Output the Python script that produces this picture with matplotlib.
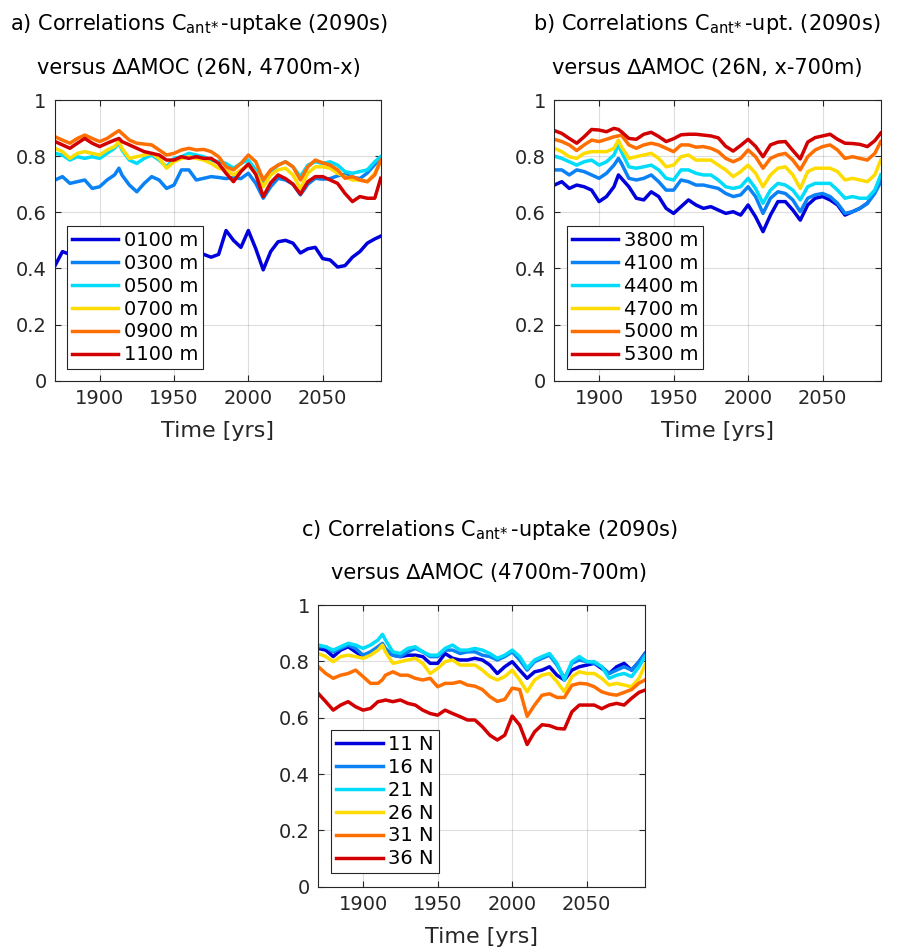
import numpy as np
import matplotlib
matplotlib.use("Agg")
import matplotlib.pyplot as plt

# ---- data ----
years = [1870, 1875, 1880, 1885, 1890, 1895, 1900, 1905, 1910, 1913, 1915,
         1920, 1925, 1930, 1935, 1940, 1945, 1950, 1955, 1960, 1965, 1970,
         1975, 1980, 1985, 1990, 1995, 2000, 2005, 2010, 2015, 2020, 2025,
         2030, 2035, 2040, 2045, 2050, 2055, 2060, 2065, 2070, 2075, 2080,
         2085, 2089]

# a) 26N, 4700m-x
labels_a = ["0100 m", "0300 m", "0500 m", "0700 m", "0900 m", "1100 m"]
a_0100 = [.41, .46, .45, .47, .46, .48, .47, .46, .49, .50, .49,
          .46, .45, .47, .48, .46, .44, .45, .47, .46, .45, .45,
          .44, .45, .535, .50, .475, .535, .47, .395, .46, .495, .50,
          .49, .455, .47, .475, .435, .43, .405, .41, .44, .46, .49,
          .505, .515]
a_0300 = [.715, .727, .703, .709, .715, .685, .691, .715, .733, .757, .733,
          .697, .673, .703, .727, .715, .685, .697, .751, .751, .715, .721,
          .727, .724, .72, .724, .72, .739, .703, .65, .691, .721, .715,
          .70, .662, .70, .721, .718, .72, .73, .735, .725, .72, .74,
          .77, .795]
a_0500 = [.81, .804, .786, .798, .792, .798, .792, .81, .828, .846, .822,
          .786, .774, .792, .804, .786, .762, .792, .798, .81, .804, .798,
          .786, .78, .774, .757, .774, .786, .751, .709, .745, .768, .78,
          .762, .727, .768, .78, .774, .78, .768, .745, .739, .745, .751,
          .78, .798]
a_0700 = [.828, .816, .792, .81, .816, .81, .804, .822, .834, .852, .828,
          .792, .798, .804, .81, .792, .757, .78, .792, .798, .792, .786,
          .774, .757, .751, .733, .751, .768, .739, .691, .733, .751, .757,
          .733, .685, .739, .762, .762, .757, .739, .727, .715, .715, .709,
          .739, .78]
a_0900 = [.869, .857, .846, .863, .875, .863, .852, .863, .881, .891, .881,
          .857, .846, .843, .840, .822, .804, .81, .822, .828, .822, .824,
          .816, .798, .762, .751, .774, .804, .78, .715, .751, .768, .78,
          .762, .715, .762, .786, .776, .768, .751, .721, .727, .715, .709,
          .733, .786]
a_1100 = [.852, .84, .828, .846, .863, .846, .834, .846, .857, .863, .852,
          .84, .828, .816, .81, .804, .786, .786, .798, .792, .798, .792,
          .792, .774, .739, .709, .745, .772, .735, .656, .705, .733, .72,
          .70, .665, .709, .727, .727, .715, .703, .667, .638, .656, .65,
          .65, .721]

# b) 26N, x-700m
labels_b = ["3800 m", "4100 m", "4400 m", "4700 m", "5000 m", "5300 m"]
b_3800 = [.697, .709, .685, .697, .691, .679, .638, .656, .691, .733, .721,
          .691, .65, .644, .673, .656, .614, .596, .62, .644, .626, .614,
          .62, .608, .596, .602, .59, .626, .584, .531, .59, .638, .638,
          .608, .572, .626, .65, .656, .644, .626, .59, .602, .614, .632,
          .673, .715]
b_4100 = [.751, .751, .733, .751, .745, .733, .721, .739, .768, .792, .774,
          .721, .715, .721, .733, .709, .679, .679, .715, .709, .697, .697,
          .691, .685, .667, .656, .662, .691, .656, .596, .65, .673, .667,
          .644, .602, .65, .662, .667, .656, .632, .596, .602, .614, .632,
          .667, .709]
b_4400 = [.80, .792, .78, .768, .78, .786, .768, .78, .804, .84, .816,
          .762, .757, .762, .768, .751, .721, .715, .751, .751, .739, .733,
          .733, .715, .691, .685, .691, .721, .685, .632, .679, .703, .697,
          .679, .644, .691, .703, .703, .703, .679, .65, .656, .65, .65,
          .679, .733]
b_4700 = [.828, .816, .798, .792, .81, .816, .816, .816, .828, .857, .834,
          .792, .798, .804, .81, .792, .762, .768, .798, .804, .786, .786,
          .786, .768, .751, .727, .745, .768, .739, .691, .733, .757, .762,
          .733, .685, .745, .757, .757, .757, .745, .715, .721, .715, .709,
          .733, .786]
b_5000 = [.86, .852, .84, .82, .84, .857, .852, .86, .869, .872, .875,
          .84, .828, .84, .846, .84, .828, .816, .84, .84, .832, .834,
          .828, .816, .792, .78, .792, .822, .798, .757, .792, .804, .81,
          .786, .751, .798, .822, .834, .84, .822, .792, .798, .792, .786,
          .81, .852]
b_5300 = [.891, .881, .863, .846, .869, .895, .893, .887, .899, .895, .887,
          .863, .86, .878, .885, .87, .852, .862, .876, .878, .878, .875,
          .872, .865, .835, .818, .838, .86, .835, .798, .84, .85, .852,
          .82, .79, .85, .866, .872, .878, .86, .846, .845, .842, .834,
          .855, .882]

# c) 4700m-700m, by latitude
labels_c = ["11 N", "16 N", "21 N", "26 N", "31 N", "36 N"]
c_11 = [.846, .84, .817, .84, .852, .834, .817, .828, .846, .858, .84,
        .822, .817, .822, .822, .817, .793, .793, .828, .811, .805, .805,
        .811, .805, .787, .757, .781, .799, .769, .74, .763, .769, .781,
        .751, .734, .769, .781, .787, .793, .775, .757, .781, .793, .769,
        .799, .828]
c_16 = [.852, .852, .834, .846, .858, .846, .822, .834, .852, .864, .846,
        .822, .817, .834, .846, .834, .817, .817, .84, .84, .828, .834,
        .834, .822, .817, .805, .817, .834, .805, .769, .799, .811, .822,
        .787, .74, .793, .805, .799, .793, .781, .757, .769, .781, .769,
        .799, .825]
c_21 = [.858, .852, .84, .852, .864, .858, .846, .858, .876, .896, .876,
        .834, .828, .846, .852, .834, .822, .822, .846, .858, .84, .84,
        .846, .84, .828, .811, .822, .84, .817, .775, .805, .817, .828,
        .793, .734, .799, .817, .799, .799, .781, .74, .751, .757, .746,
        .781, .817]
c_26 = [.828, .817, .799, .817, .822, .817, .811, .822, .84, .858, .834,
        .793, .799, .805, .811, .793, .757, .775, .799, .805, .787, .787,
        .787, .769, .746, .734, .746, .769, .734, .692, .734, .751, .757,
        .728, .692, .746, .763, .757, .757, .74, .716, .722, .716, .71,
        .74, .787]
c_31 = [.781, .757, .74, .751, .757, .769, .746, .722, .722, .735, .751,
        .763, .751, .751, .74, .734, .74, .71, .722, .722, .728, .716,
        .712, .70, .675, .658, .665, .705, .70, .605, .645, .68, .685,
        .672, .672, .715, .722, .72, .71, .692, .684, .68, .69, .70,
        .723, .734]
c_36 = [.686, .657, .627, .645, .657, .639, .627, .633, .657, .66, .663,
        .657, .663, .651, .645, .627, .615, .609, .627, .615, .604, .592,
        .592, .568, .538, .521, .538, .606, .574, .505, .55, .575, .572,
        .562, .56, .621, .645, .645, .645, .632, .645, .651, .645, .669,
        .69, .698]

colors = ["#0000dc", "#0a82f5", "#00dcfa", "#ffdc00", "#ff6e00", "#d20000"]

# ---- figure ----
fig = plt.figure(figsize=(9.11, 9.47), dpi=100)
dark = "#262626"

panels = [
    ([0.0604, 0.598, 0.3575, 0.2964], [a_0100, a_0300, a_0500, a_0700, a_0900, a_1100],
     labels_a, (0.036, 0.041)),
    ([0.6085, 0.598, 0.3583, 0.2964], [b_3800, b_4100, b_4400, b_4700, b_5000, b_5300],
     labels_b, (0.038, 0.041)),
    ([0.3494, 0.0636, 0.3586, 0.2975], [c_11, c_16, c_21, c_26, c_31, c_36],
     labels_c, (0.039, 0.048)),
]

for rect, series, labels, lpos in panels:
    ax = fig.add_axes(rect)
    for vals, col, lab in zip(series, colors, labels):
        ax.plot(years, vals, color=col, lw=2.5, label=lab)
    ax.set_xlim(1870, 2089)
    ax.set_ylim(0, 1)
    ax.set_xticks([1900, 1950, 2000, 2050])
    ax.set_yticks([0, 0.2, 0.4, 0.6, 0.8, 1])
    ax.set_yticklabels(["0", "0.2", "0.4", "0.6", "0.8", "1"])
    ax.grid(True, color=dark, alpha=0.15, lw=0.8)
    ax.tick_params(direction="in", length=4, width=0.8, top=True, right=True,
                   labelsize=14, colors=dark, pad=6)
    for sp in ax.spines.values():
        sp.set_color(dark)
        sp.set_linewidth(0.8)
    ax.set_xlabel("Time [yrs]", fontsize=16, color=dark, labelpad=9)
    leg = ax.legend(loc="lower left", bbox_to_anchor=lpos, borderaxespad=0,
                    fontsize=14, fancybox=False, framealpha=1, edgecolor=dark,
                    handlelength=2.4, handletextpad=0.3, labelspacing=0.2,
                    borderpad=0.25)
    leg.get_frame().set_linewidth(0.8)

# titles
tkw = dict(fontsize=15, ha="center", va="center", color="black")
sub = r"C$_{\mathregular{ant}\!*}$"
fig.text(199 / 911, 1 - 24 / 947, "a) Correlations " + sub + "-uptake (2090s)", **tkw)
fig.text(199 / 911, 1 - 68 / 947, "versus \u2206AMOC (26N, 4700m-x)", **tkw)
fig.text(707 / 911, 1 - 24 / 947, "b) Correlations " + sub + "-upt. (2090s)", **tkw)
fig.text(707 / 911, 1 - 68 / 947, "versus \u2206AMOC (26N, x-700m)", **tkw)
fig.text(489 / 911, 1 - 530 / 947, "c) Correlations " + sub + "-uptake (2090s)", **tkw)
fig.text(489 / 911, 1 - 573 / 947, "versus \u2206AMOC (4700m-700m)", **tkw)

fig.savefig("out.png", dpi=100)
